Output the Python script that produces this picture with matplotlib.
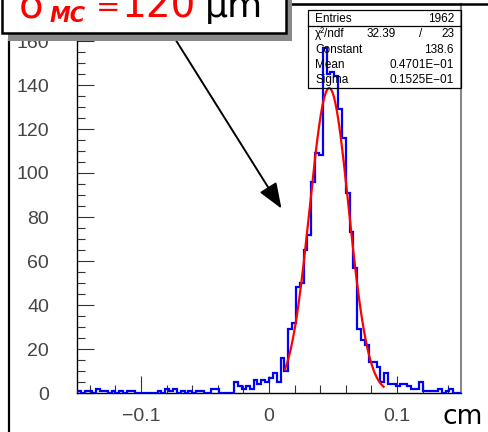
import numpy as np
import matplotlib
matplotlib.use("Agg")
import matplotlib.pyplot as plt
from matplotlib.patches import Rectangle, FancyArrowPatch
from matplotlib.lines import Line2D

# ---- data ----
x_min, x_max, n_bins = -0.15, 0.15, 100
counts = [1, 0, 1, 1, 0, 2, 1, 1, 0, 1,
          0, 1, 0, 1, 1, 0, 0, 0, 0, 0,
          0, 1, 0, 2, 1, 2, 0, 1, 0, 1,
          0, 1, 1, 0, 0, 2, 2, 0, 0, 0,
          0, 5, 3, 2, 3, 2, 6, 4, 6, 5,
          7, 9, 5, 16, 10, 29, 32, 48, 50, 65,
          72, 96, 109, 108, 157, 145, 146, 144, 129, 116,
          91, 73, 57, 29, 24, 22, 14, 14, 12, 5,
          9, 4, 4, 3, 4, 4, 3, 2, 2, 5,
          1, 1, 1, 1, 2, 0, 1, 2, 0, 0]
fit_constant, fit_mean, fit_sigma = 138.6, 0.04701, 0.01525
fit_range = (0.0125, 0.0895)
stat_labels = ["Entries", "Constant", "Mean", "Sigma"]
stat_values = ["1962", "138.6", "0.4701E\u221201", "0.1525E\u221201"]
chi2_val, ndf_val = "32.39", "23"
xticks_major = [-0.1, 0, 0.1]
xtick_labels = ["\u22120.1", "0", "0.1"]
yticks_major = [0, 20, 40, 60, 80, 100, 120, 140, 160]

W, H = 488, 432
fig = plt.figure(figsize=(W / 100, H / 100), dpi=100)

def fx(px):
    return px / W

def fy(py):
    return 1 - py / H

ax_l, ax_r, ax_b, ax_t = 77, 461, 393, 4
ax = fig.add_axes([fx(ax_l), fy(ax_b), (ax_r - ax_l) / W, (ax_b - ax_t) / H])
edges = np.linspace(x_min, x_max, n_bins + 1)
ax.stairs(counts, edges, color="#0000ff", linewidth=1.6, zorder=4)

xf = np.linspace(fit_range[0], fit_range[1], 200)
yf = fit_constant * np.exp(-0.5 * ((xf - fit_mean) / fit_sigma) ** 2)
ax.plot(xf, yf, color="#ff0000", linewidth=1.6, zorder=5)

ax.set_xlim(x_min, x_max)
ax.set_ylim(0, (ax_b - ax_t) / 2.2)
ax.set_xticks(xticks_major)
ax.set_xticklabels(xtick_labels)
ax.set_xticks(np.arange(-0.14, 0.141, 0.02), minor=True)
ax.set_yticks(yticks_major)
ax.set_yticks(np.arange(0, 176, 5), minor=True)
for t in ax.get_xticklabels() + ax.get_yticklabels():
    t.set_fontfamily("Liberation Sans")
    t.set_fontsize(14)
    t.set_color("#444444")
ax.tick_params(axis="both", which="major", direction="in", length=12, width=0.8, color="#333333")
ax.tick_params(axis="both", which="minor", direction="in", length=6, width=0.8, color="#333333")
ax.tick_params(axis="x", which="major", pad=11)
ax.tick_params(axis="y", which="major", pad=20)
ax.tick_params(top=False, right=False, which="both")
for s in ["left", "bottom", "top"]:
    ax.spines[s].set_color("black")
    ax.spines[s].set_linewidth(1.0)
ax.spines["right"].set_color("#888888")
ax.spines["right"].set_linewidth(1.5)

# stats box
sb_l, sb_r, sb_t, sb_b = 308, 461, 10, 88
fig.add_artist(Rectangle((fx(sb_l), fy(sb_b)), (sb_r - sb_l) / W, (sb_b - sb_t) / H,
                         transform=fig.transFigure, fill=False, edgecolor="black",
                         linewidth=0.9, zorder=3))
fig.add_artist(Line2D([fx(sb_l), fx(sb_r)], [fy(26), fy(26)], transform=fig.transFigure,
                      color="black", linewidth=0.9, zorder=3))
sfont = dict(family="Liberation Sans", size=8.5, color="black", zorder=3)
rows_y = [18.5, 50, 65, 80]
for lab, val, yy in zip(stat_labels, stat_values, rows_y):
    fig.text(fx(315), fy(yy), lab, ha="left", va="center", **sfont)
    fig.text(fx(454), fy(yy), val, ha="right", va="center", **sfont)
fig.text(fx(315), fy(34), "\u03c7\u00b2/ndf", ha="left", va="center", **sfont)
fig.text(fx(396), fy(34), chi2_val, ha="right", va="center", **sfont)
fig.text(fx(421), fy(34), "/", ha="center", va="center", **sfont)
fig.text(fx(454), fy(34), ndf_val, ha="right", va="center", **sfont)

# top border line at right
fig.add_artist(Line2D([fx(290), fx(488)], [fy(4), fy(4)], transform=fig.transFigure,
                      color="black", linewidth=1.8, zorder=6))
# left outer vertical line
fig.add_artist(Line2D([fx(9), fx(9)], [fy(40), fy(432)], transform=fig.transFigure,
                      color="black", linewidth=1.6, zorder=6))

# annotation box with shadow
bx_l, bx_r, bx_t, bx_b = 1.5, 286, -20, 33
fig.add_artist(Rectangle((fx(bx_l + 6), fy(bx_b + 7.5)), (bx_r - bx_l) / W, (bx_b - bx_t) / H,
                         transform=fig.transFigure, facecolor="#8a8a8a", edgecolor="none",
                         zorder=7))
fig.add_artist(Rectangle((fx(bx_l), fy(bx_b)), (bx_r - bx_l) / W, (bx_b - bx_t) / H,
                         transform=fig.transFigure, facecolor="white", edgecolor="black",
                         linewidth=1.8, zorder=8))
red = "#ff0000"
fig.text(fx(19), fy(17), "\u03c3", color=red, fontsize=29, family="DejaVu Sans",
         ha="left", va="baseline", zorder=9)
fig.text(fx(50), fy(21.5), "MC", color=red, fontsize=15, family="DejaVu Sans",
         weight="bold", style="italic", ha="left", va="baseline", zorder=9)
fig.text(fx(96), fy(16), "=", color=red, fontsize=21, family="DejaVu Sans",
         ha="left", va="baseline", zorder=9)
fig.text(fx(122), fy(17), "120", color=red, fontsize=28, family="DejaVu Sans",
         ha="left", va="baseline", zorder=9)
fig.text(fx(205), fy(17), "\u03bcm", color="black", fontsize=26, family="DejaVu Sans",
         ha="left", va="baseline", zorder=9)

# arrow
fig.add_artist(FancyArrowPatch((fx(172), fy(34)), (fx(283), fy(211)), transform=fig.transFigure,
                               arrowstyle="-|>,head_length=1.3,head_width=0.5",
                               mutation_scale=12, color="black", linewidth=1.4, zorder=6))

# axis unit
fig.text(fx(442), fy(417), "cm", color="black", fontsize=19, family="DejaVu Sans",
         ha="left", va="center", zorder=6)

fig.savefig("out.png", dpi=100)
